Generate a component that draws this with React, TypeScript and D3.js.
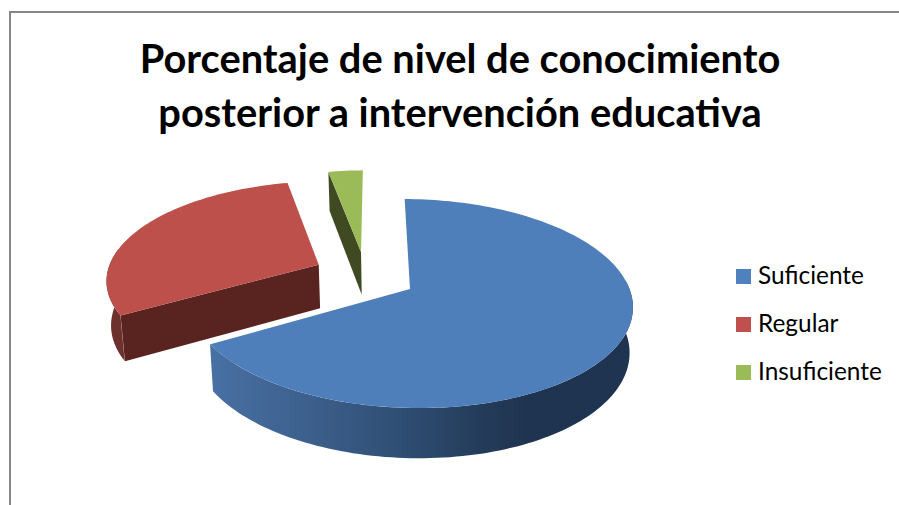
import React from "react";
import * as d3 from "d3";

const categories = ["Suficiente", "Regular", "Insuficiente"];
const values = [66.8, 30.2, 3];
const titleLines = ["Porcentaje de nivel de conocimiento", "posterior a intervención educativa"];
const topColors = ["#4F7FBB", "#BE504C", "#9BBB59"];
const faceColors = ["#1F3552", "#592320", "#3F4A23"];
const wallColors = ["url(#blueWall)", "#6E302D", "#3F4A23"];

// projection of the tilted disc
const cx = 410, cy = 289, Rx = 219.5, Ry = 102.5, k = 0.139;
const offsets: [number, number][] = [[0, 0], [-0.43, -0.245], [-0.235, -0.38]];
const radii = [1, 0.985, 1];
const skews = [8, 4, 0];
const wallArcs: ([number, number] | null)[] = [[85, 240], [240, 280], null];

const deg = (r: number) => (r * 180) / Math.PI;
const rad = (d: number) => (d * Math.PI) / 180;

function project(u: number, v: number, skewed: number): [number, number] {
  const s = 1 / (1 - k * v);
  return [cx + (Rx * u + skewed) * s, cy + Ry * v * s];
}
const lower = ([x, y]: [number, number]): [number, number] => [cx + (x - cx) * 0.985, 31 + 1.047 * y];

const pie = d3.pie<number>().sort(null).startAngle(rad(0.5)).endAngle(rad(358.8));
const line = d3.line().curve(d3.curveLinear);

function rim(i: number, a0: number, a1: number): [number, number][] {
  const [ou, ov] = offsets[i];
  const n = Math.max(2, Math.ceil(Math.abs(a1 - a0) / 1.5));
  return d3.range(n + 1).map((j) => {
    const t = rad(a0 + ((a1 - a0) * j) / n);
    const dv = -radii[i] * Math.cos(t);
    return project(ou + radii[i] * Math.sin(t), ov + dv, skews[i] * dv);
  });
}

export default function App() {
  const arcs = pie(values);
  // back to front: green, red, blue
  const order = [2, 1, 0];
  return (
    <svg width={899} height={505} style={{ position: "absolute", left: 0, top: 0, background: "#fff" }}>
      <defs>
        <linearGradient id="blueWall" gradientUnits="userSpaceOnUse" x1={211} x2={633} y1={0} y2={0}>
          <stop offset="0" stopColor="#4870A3" />
          <stop offset="0.2" stopColor="#3E6290" />
          <stop offset="0.45" stopColor="#2F4E73" />
          <stop offset="0.65" stopColor="#233B59" />
          <stop offset="0.75" stopColor="#1F3450" />
          <stop offset="1" stopColor="#1F3450" />
        </linearGradient>
      </defs>
      <path d="M10 505V12H899" fill="none" stroke="#868686" strokeWidth={2} />
      <g fontFamily="Lato, Carlito, sans-serif" fontWeight={700} fontSize={39.8} fill="#000" textAnchor="middle">
        {titleLines.map((t, i) => (
          <text key={t} x={460} y={73 + i * 54}>{t}</text>
        ))}
      </g>
      {order.map((i) => {
        const a0 = deg(arcs[i].startAngle);
        const a1 = deg(arcs[i].endAngle);
        const top = rim(i, a0, a1);
        const apex = project(offsets[i][0], offsets[i][1], 0);
        const wall = wallArcs[i];
        const start = rim(i, a0, a0)[0];
        const showFace = i !== 0;
        const faceTop = [apex, start];
        return (
          <g key={categories[i]}>
            {wall && (() => {
              const w = rim(i, wall[0], wall[1]);
              return <path d={line([...w, ...w.map(lower).reverse()]) + "Z"} fill={wallColors[i]} />;
            })()}
            {showFace && (
              <path d={line([...faceTop, ...faceTop.map(lower).reverse()]) + "Z"} fill={faceColors[i]} />
            )}
            <path d={line([apex, ...top]) + "Z"} fill={topColors[i]} />
          </g>
        );
      })}
      <g fontFamily="Lato, Carlito, sans-serif" fontSize={24.4} fill="#000">
        {categories.map((c, i) => (
          <g key={c}>
            <rect x={736} y={269 + i * 48} width={15} height={15} fill={["#4F81BD", "#C0504D", "#9BBB59"][i]} />
            <text x={758} y={284 + i * 48}>{c}</text>
          </g>
        ))}
      </g>
    </svg>
  );
}
